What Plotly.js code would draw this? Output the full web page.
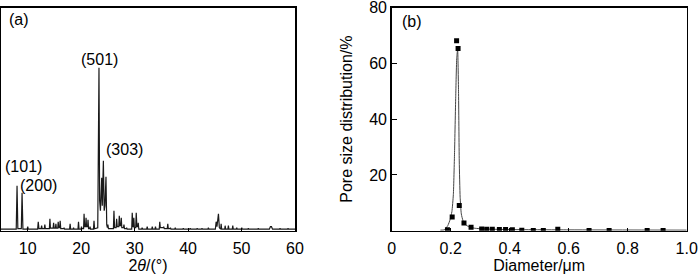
<!DOCTYPE html>
<html>
<head>
<meta charset="utf-8">
<script src="https://cdn.plot.ly/plotly-3.0.1.min.js"></script>
<style>html,body{margin:0;padding:0;background:#fff;}#chart{width:700px;height:275px;}</style>
</head>
<body>
<div id="chart"></div>
<script>
// ---- Panel (a): XRD pattern (intensity in arbitrary units)
var twoTheta = [5.0,7.85,8.0,8.15,8.8,8.94,9.1,9.9,10.0,10.1,11.85,11.97,12.1,12.5,12.6,12.7,13.1,13.2,13.3,
  14.05,14.15,14.25,14.75,14.84,14.95,15.18,15.27,15.36,15.62,15.7,15.8,15.98,16.07,16.18,16.7,16.8,16.9,
  17.83,17.93,18.03,18.5,18.57,18.65,19.4,19.5,19.6,19.98,20.06,20.14,20.45,20.54,20.65,20.83,20.91,21.0,
  21.2,21.28,21.38,21.58,21.66,21.75,22.3,22.4,22.5,
  23.1,23.2,23.33,23.45,23.6,23.84,23.95,24.15,24.3,24.45,24.64,24.78,24.9,25.0,25.1,
  26.03,26.13,26.25,26.53,26.63,26.75,27.03,27.13,27.25,27.42,27.5,27.6,27.92,28.0,28.1,28.42,28.5,28.6,
  29.45,29.55,29.68,29.78,29.85,29.95,30.2,30.3,30.42,30.6,30.67,30.78,31.3,31.4,31.5,32.25,32.35,32.45,
  33.2,33.3,33.4,33.8,33.9,34.0,34.6,34.7,34.8,35.35,35.44,35.55,36.1,36.2,36.3,36.6,36.7,36.8,37.5,37.6,37.7,
  39.0,39.1,39.2,40.3,40.4,40.5,41.6,41.7,41.8,42.5,42.6,42.7,43.7,43.8,43.9,
  45.1,45.25,45.4,45.68,45.85,46.0,46.1,46.18,46.28,46.85,46.93,47.02,47.45,47.54,47.63,48.27,48.36,48.45,
  49.0,49.1,49.2,49.95,50.04,50.13,51.2,51.27,51.35,53.05,53.13,53.2,55.2,55.4,55.6,55.8,57.1,57.2,57.3,
  58.6,58.7,58.8,60.0];
var intensity = [1.5,1.5,45,2,2,38,1.5,1.5,4,1.5,1.5,9,2,2,5,2,2,6,2,
  2,12,2.5,2.5,8,2.5,2.5,7,2.5,2.5,9,3,3,10,2,2,3,1.5,
  1.5,7,1.5,1.5,3,1.5,1.5,9,1.5,1.5,4,2,2,17,4,4,13,4,
  4,11,2,2,4,1.5,1.5,10,2,
  3,60,163,30,20,53,25,70,20,25,54,6,3,6,2,
  2,20,3,3,12,4,4,15,5,5,13,3,3,6,2,2,3,1.5,
  1.5,18,4,4,13,3,3,18,4,4,8,1.5,1.5,3,1.5,1.5,4,1.5,
  1.5,4,1.5,1.5,4,1.5,1.5,9,3,3,4,2,2,7,2,2,3,1.5,1.5,3,1.5,
  1.5,2.5,1.5,1.5,2.5,1.5,1.5,2.5,1.5,1.5,2.5,1.5,1.5,3,1.5,
  1.5,9,4,17,3,1.5,1.5,7,1.5,1.5,5,1.5,1.5,5,1.5,1.5,5,1.5,
  1.5,3,1.5,1.5,3,1.5,1.5,2.5,1.5,1.5,2.5,1.5,1.5,4,4,1.5,1.5,2.5,1.5,
  1.5,2.5,1.5,1.5];
var peakLabels = ['(101)','(200)','(501)','(303)'];
var xTicksA = [10,20,30,40,50,60];

// ---- Panel (b): pore size distribution
var poreDiameter = [0.189,0.205,0.220,0.225,0.229,0.245,0.269,0.305,0.322,0.341,0.365,0.386,0.409,0.441,0.48,0.514,0.563,0.669,0.737,0.866,0.92];
var porePercent  = [0.3,4.9,68.1,65.3,9.0,2.8,1.2,0.6,0.5,0.5,0.4,0.4,0.3,0.2,0.1,0.1,0.5,0.1,0.1,0.1,0.05];
var fitDiameter = [0.165,0.178,0.19,0.198,0.204,0.209,0.213,0.217,0.2205,0.2235,0.2265,0.229,0.232,0.236,0.242,0.25,0.26,0.28,0.32,0.4,0.6,1.0];
var fitPercent  = [0.2,0.3,1.8,4,6.8,13,28,48,62,65,50,25,12,6,3.5,2.2,1.5,0.9,0.6,0.4,0.3,0.2];
var xTicksB = [0,0.2,0.4,0.6,0.8,1.0];
var xTickTextB = ['0','0.2','0.4','0.6','0.8','1.0'];
var yTicksB = [20,40,60,80];

var FONT = 'Liberation Sans, Arial, Helvetica, sans-serif';
var W = 700, H = 275;
var TOP = 7.5, BOTTOM = 230.7;
function px(x){return x/W;}
function py(y){return 1 - y/H;}

var traces = [
  {x: twoTheta, y: intensity, type: 'scatter', mode: 'lines', xaxis: 'x', yaxis: 'y',
   line: {color: '#1a1a1a', width: 1.2}, hoverinfo: 'skip'},
  {x: fitDiameter, y: fitPercent, type: 'scatter', mode: 'lines', xaxis: 'x2', yaxis: 'y2',
   line: {color: '#444', width: 1, shape: 'spline', smoothing: 0.5}, hoverinfo: 'skip'},
  {x: poreDiameter, y: porePercent, type: 'scatter', mode: 'markers', xaxis: 'x2', yaxis: 'y2',
   marker: {symbol: 'square', size: 5, color: '#000'}, hoverinfo: 'skip'}
];

var axisLine = {showline: true, linecolor: '#000', linewidth: 1.5, mirror: true, zeroline: false, showgrid: false};

var layout = {
  width: W, height: H,
  margin: {l: 0, r: 0, t: 0, b: 0},
  paper_bgcolor: '#fff', plot_bgcolor: '#fff',
  showlegend: false,
  font: {family: FONT, size: 16, color: '#000'},
  xaxis: Object.assign({}, axisLine, {
    domain: [px(1), px(295)], range: [5, 60], anchor: 'y',
    tickmode: 'array', tickvals: xTicksA, ticks: 'inside', ticklen: 3, tickcolor: '#000',
    ticklabelstandoff: 3, ticklabeloverflow: 'allow',
    tickfont: {family: FONT, size: 16},
    title: {text: '2<i>θ</i>/(°)', font: {family: FONT, size: 16}, standoff: 3}
  }),
  yaxis: Object.assign({}, axisLine, {
    domain: [py(BOTTOM), py(TOP)], range: [0, 223.2], anchor: 'x',
    showticklabels: false, ticks: ''
  }),
  xaxis2: Object.assign({}, axisLine, {
    domain: [px(391.7), px(686.7)], range: [0, 1], anchor: 'y2',
    tickmode: 'array', tickvals: xTicksB, ticktext: xTickTextB,
    ticks: 'inside', ticklen: 3, tickcolor: '#000',
    ticklabelstandoff: 3, ticklabeloverflow: 'allow',
    tickfont: {family: FONT, size: 16},
    title: {text: 'Diameter/μm', font: {family: FONT, size: 16}, standoff: 3}
  }),
  yaxis2: Object.assign({}, axisLine, {
    domain: [py(BOTTOM), py(TOP)], range: [0, 80], anchor: 'x2',
    tickmode: 'array', tickvals: yTicksB, ticks: 'inside', ticklen: 5, tickcolor: '#000',
    ticklabeloverflow: 'allow',
    tickfont: {family: FONT, size: 16},
    title: {text: 'Pore size distribution/%', font: {family: FONT, size: 16}, standoff: 12}
  }),
  annotations: [
    {text: '(a)', xref: 'paper', yref: 'paper', x: px(7), y: py(19), xanchor: 'left', yanchor: 'middle', showarrow: false, font: {family: FONT, size: 16}},
    {text: '(b)', xref: 'paper', yref: 'paper', x: px(400), y: py(21), xanchor: 'left', yanchor: 'middle', showarrow: false, font: {family: FONT, size: 16}},
    {text: peakLabels[0], xref: 'x', yref: 'y', x: 9.3, y: 64, xanchor: 'center', yanchor: 'middle', showarrow: false, font: {family: FONT, size: 16}},
    {text: peakLabels[1], xref: 'x', yref: 'y', x: 12.0, y: 45, xanchor: 'center', yanchor: 'middle', showarrow: false, font: {family: FONT, size: 16}},
    {text: peakLabels[2], xref: 'x', yref: 'y', x: 23.46, y: 171, xanchor: 'center', yanchor: 'middle', showarrow: false, font: {family: FONT, size: 16}},
    {text: peakLabels[3], xref: 'x', yref: 'y', x: 24.2, y: 81, xanchor: 'left', yanchor: 'middle', showarrow: false, font: {family: FONT, size: 16}}
  ]
};

Plotly.newPlot('chart', traces, layout, {staticPlot: true, displayModeBar: false});
</script>
</body>
</html>
